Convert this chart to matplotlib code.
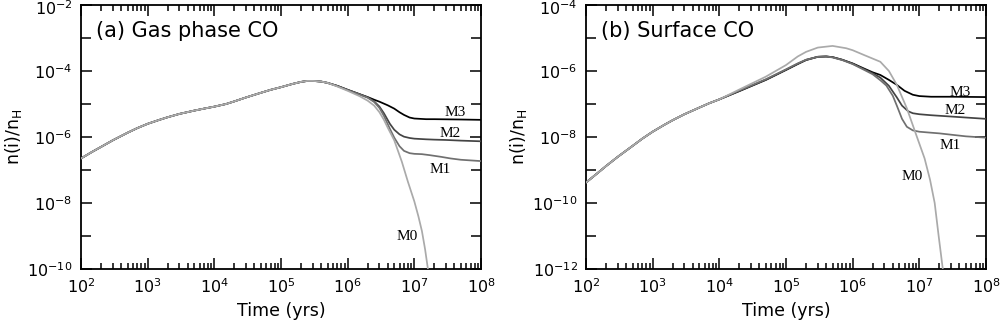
import numpy as np
import matplotlib.pyplot as plt
import matplotlib.transforms as mtransforms
from matplotlib.ticker import LogLocator, FixedLocator, NullFormatter

# ---- values, as log10(n(i)/n_H) ----

# (a) gas phase CO: all models share the early evolution
gas_t_common = [1e2, 1.5e2, 2e2, 3e2, 5e2, 7e2, 1e3, 1.5e3, 2e3, 3e3, 5e3, 7e3, 1e4,
                1.5e4, 2e4, 3e4, 5e4, 7e4, 1e5, 1.5e5, 2e5, 2.5e5, 3e5, 4e5, 5e5]
gas_common = [-6.65, -6.44, -6.30, -6.10, -5.87, -5.73, -5.60, -5.48, -5.40, -5.30, -5.20, -5.14, -5.08,
              -5.00, -4.92, -4.80, -4.66, -4.57, -4.49, -4.39, -4.33, -4.30, -4.30, -4.32, -4.36]

gas_m3_t = [7e5, 1e6, 1.5e6, 2e6, 2.5e6, 3e6, 4e6, 5e6, 6e6, 7e6, 8.5e6, 1e7, 1.5e7, 2e7, 5e7, 1e8]
gas_m3 = [-4.45, -4.57, -4.70, -4.79, -4.87, -4.93, -5.04, -5.14, -5.25, -5.33, -5.41, -5.44, -5.46, -5.46, -5.47, -5.48]

gas_m2_t = [7e5, 1e6, 1.5e6, 2e6, 2.5e6, 3e6, 3.5e6, 4.3e6, 5e6, 6e6, 7e6, 8.5e6, 1e7, 1.5e7, 2e7, 3e7, 5e7, 1e8]
gas_m2 = [-4.45, -4.57, -4.70, -4.80, -4.92, -5.08, -5.28, -5.60, -5.78, -5.92, -5.99, -6.03, -6.05, -6.07, -6.08, -6.09, -6.11, -6.13]

gas_m1_t = [7e5, 1e6, 1.5e6, 2e6, 2.5e6, 3e6, 3.5e6, 4.3e6, 5e6, 6e6, 7e6, 8.5e6, 1e7, 1.3e7, 1.7e7, 2.5e7, 3.5e7, 5e7, 1e8]
gas_m1 = [-4.46, -4.58, -4.71, -4.81, -4.94, -5.12, -5.36, -5.75, -6.02, -6.28, -6.42, -6.49, -6.51, -6.52, -6.55, -6.60, -6.65, -6.69, -6.73]

gas_m0_t = [7e5, 1e6, 1.5e6, 2e6, 2.5e6, 3e6, 3.5e6, 4e6, 5e6, 6.5e6, 8e6, 1e7, 1.15e7, 1.3e7, 1.45e7, 1.6e7, 1.7e7]
gas_m0 = [-4.47, -4.60, -4.76, -4.90, -5.05, -5.25, -5.48, -5.72, -6.10, -6.75, -7.35, -7.95, -8.40, -8.85, -9.40, -10.0, -10.5]

# (b) surface CO
surf_t_common = [1e2, 1.5e2, 2e2, 3e2, 5e2, 7e2, 1e3, 1.5e3, 2e3, 3e3, 5e3, 7e3, 1e4]
surf_common = [-9.38, -9.09, -8.88, -8.60, -8.27, -8.05, -7.84, -7.63, -7.49, -7.31, -7.11, -6.98, -6.86]

surf_m3_t = [2e4, 5e4, 1e5, 1.5e5, 2e5, 3e5, 4e5, 5e5, 7e5, 1e6, 1.5e6, 2e6, 2.6e6, 3.5e6, 4.6e6,
             6e6, 8e6, 1e7, 1.5e7, 3e7, 1e8]
surf_m3 = [-6.61, -6.27, -5.97, -5.79, -5.67, -5.57, -5.56, -5.58, -5.66, -5.77, -5.93, -6.04, -6.12, -6.27, -6.42,
           -6.60, -6.72, -6.76, -6.78, -6.78, -6.79]

surf_m2_t = [2e4, 5e4, 1e5, 1.5e5, 2e5, 3e5, 4e5, 5e5, 7e5, 1e6, 1.5e6, 2e6, 2.6e6, 3.5e6, 4.6e6,
             5.5e6, 6.8e6, 8e6, 1e7, 1.5e7, 3e7, 5e7, 1e8]
surf_m2 = [-6.60, -6.26, -5.96, -5.78, -5.66, -5.57, -5.56, -5.58, -5.66, -5.78, -5.95, -6.07, -6.20, -6.45, -6.80,
           -7.05, -7.22, -7.28, -7.31, -7.34, -7.38, -7.41, -7.45]

surf_m1_t = [2e4, 5e4, 1e5, 1.5e5, 2e5, 3e5, 4e5, 5e5, 7e5, 1e6, 1.5e6, 2e6, 2.6e6, 3.2e6, 4e6, 4.6e6,
             5.5e6, 6.5e6, 8e6, 1e7, 1.5e7, 2e7, 3e7, 5e7, 1e8]
surf_m1 = [-6.59, -6.25, -5.95, -5.77, -5.66, -5.57, -5.56, -5.59, -5.67, -5.79, -5.97, -6.10, -6.28, -6.44, -6.75, -7.05,
           -7.45, -7.69, -7.80, -7.84, -7.87, -7.89, -7.93, -7.98, -8.02]

surf_m0_t = [2e4, 5e4, 1e5, 1.5e5, 2e5, 3e5, 5e5, 8e5, 1e6, 1.5e6, 2.6e6, 3.5e6, 4.6e6, 6.5e6, 9e6,
             1.2e7, 1.45e7, 1.7e7, 1.95e7, 2.25e7, 2.4e7]
surf_m0 = [-6.56, -6.17, -5.82, -5.56, -5.42, -5.29, -5.24, -5.31, -5.37, -5.52, -5.72, -6.00, -6.42, -7.13, -7.94,
           -8.65, -9.30, -10.0, -11.0, -12.0, -12.5]

colors = {'M3': '#000000', 'M2': '#444444', 'M1': '#707070', 'M0': '#aaaaaa'}

fig = plt.figure(figsize=(10.01, 3.23), dpi=100)
ax1 = fig.add_axes([0.0809, 0.1672, 0.3996, 0.8173])
ax2 = fig.add_axes([0.5854, 0.1672, 0.3996, 0.8173])

panels = [
    dict(ax=ax1, t0=gas_t_common, y0=gas_common,
         series=[('M3', gas_m3_t, gas_m3), ('M2', gas_m2_t, gas_m2), ('M1', gas_m1_t, gas_m1), ('M0', gas_m0_t, gas_m0)],
         ylim=(1e-10, 1e-2), title='(a) Gas phase CO',
         labpos={'M3': (4.1e7, -5.27), 'M2': (3.4e7, -5.88), 'M1': (2.4e7, -6.97), 'M0': (7.8e6, -9.03)}),
    dict(ax=ax2, t0=surf_t_common, y0=surf_common,
         series=[('M3', surf_m3_t, surf_m3), ('M2', surf_m2_t, surf_m2), ('M1', surf_m1_t, surf_m1), ('M0', surf_m0_t, surf_m0)],
         ylim=(1e-12, 1e-4), title='(b) Surface CO',
         labpos={'M3': (4.1e7, -6.64), 'M2': (3.4e7, -7.21), 'M1': (2.9e7, -8.27), 'M0': (7.8e6, -9.21)}),
]

for p in panels:
    ax = p['ax']
    for name, t, y in p['series']:
        tt = np.array(p['t0'] + t)
        yy = 10.0 ** np.array(p['y0'] + y)
        ax.plot(tt, yy, color=colors[name], lw=1.25, zorder=4 if name == 'M0' else 3,
                solid_joinstyle='round')

    ax.set_xscale('log')
    ax.set_yscale('log')
    ax.set_xlim(1e2, 1e8)
    ax.set_ylim(*p['ylim'])

    lo, hi = int(np.log10(p['ylim'][0])), int(np.log10(p['ylim'][1]))
    ax.yaxis.set_major_locator(FixedLocator([10.0 ** k for k in range(lo, hi + 1, 2)]))
    ax.yaxis.set_minor_locator(FixedLocator([10.0 ** k for k in range(lo + 1, hi, 2)]))
    ax.yaxis.set_minor_formatter(NullFormatter())
    ax.xaxis.set_major_locator(LogLocator(base=10, numticks=20))
    ax.xaxis.set_minor_locator(LogLocator(base=10, subs=np.arange(2, 10), numticks=100))
    ax.xaxis.set_minor_formatter(NullFormatter())

    ax.tick_params(which='both', direction='in', top=True, right=True, labelsize=11.5, width=1.1)
    ax.tick_params(which='major', length=8, pad=6)
    ax.tick_params(which='minor', length=4)
    ax.tick_params(axis='y', which='minor', length=7)
    for s in ax.spines.values():
        s.set_linewidth(1.3)

    ax.set_xlabel('Time (yrs)', fontsize=12.5)
    ax.xaxis.set_label_coords(0.5, -0.125)
    ax.set_ylabel(r'n(i)/n$_\mathregular{H}$', fontsize=12.5)
    ax.yaxis.set_label_coords(-0.142, 0.5)
    ax.text(0.037, 0.902, p['title'], transform=ax.transAxes, fontsize=15, va='center', ha='left')

    for name, (x, ly) in p['labpos'].items():
        ax.text(x, 10.0 ** ly, name, fontsize=11, family='Liberation Serif', ha='center', va='center')

# top y label sits just under the frame edge, as in the original
fig.canvas.draw()
for ax in (ax1, ax2):
    top = ax.yaxis.get_major_ticks()[-1].label1
    top.set_va('top')
    top.set_transform(top.get_transform() + mtransforms.ScaledTranslation(0, 4 / 72, fig.dpi_scale_trans))

fig.savefig('out.png', dpi=100)
